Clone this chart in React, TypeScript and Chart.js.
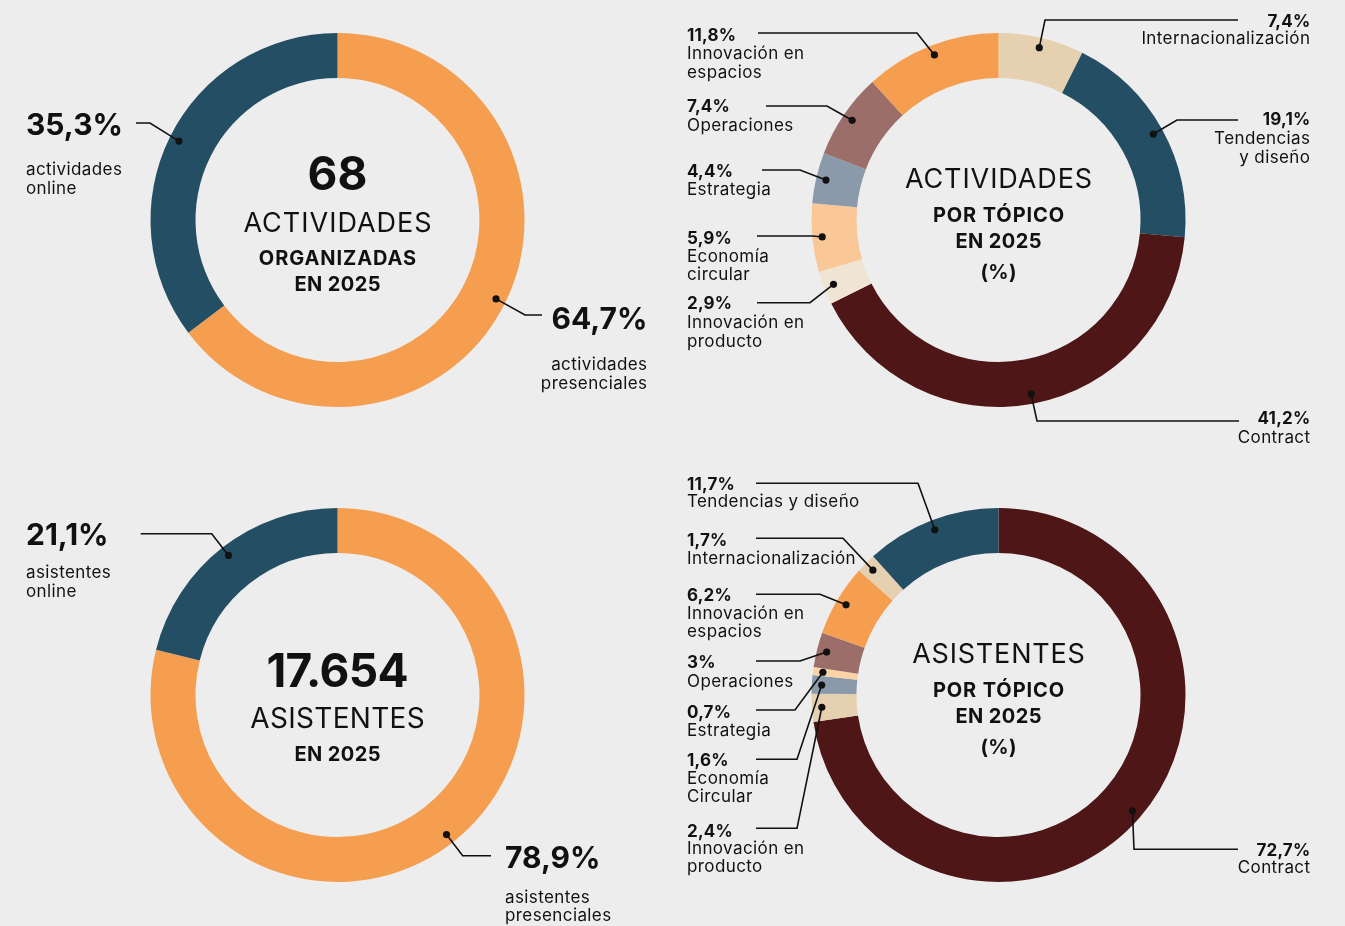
import React, { useEffect, useRef } from 'react';
import { Chart, registerables } from 'chart.js';

Chart.register(...registerables);

const W = 1345;
const H = 926;
const FONT = 'Inter, "Noto Sans", "DejaVu Sans", sans-serif';
const INK = '#111111';
const BG = '#ededed';

// ---------- data ----------
const actividadesTotal = '68';
const actividadesModalidad = ['actividades presenciales', 'actividades online'];
const actividadesModalidadValores = [64.7, 35.3];

const actividadesTopicos = [
  'Internacionalización',
  'Tendencias y diseño',
  'Contract',
  'Innovación en producto',
  'Economía circular',
  'Estrategia',
  'Operaciones',
  'Innovación en espacios',
];
const actividadesTopicosValores = [7.4, 19.1, 41.2, 2.9, 5.9, 4.4, 7.4, 11.8];

const asistentesTotal = '17.654';
const asistentesModalidad = ['asistentes presenciales', 'asistentes online'];
const asistentesModalidadValores = [78.9, 21.1];

const asistentesTopicos = [
  'Contract',
  'Innovación en producto',
  'Economía Circular',
  'Estrategia',
  'Operaciones',
  'Innovación en espacios',
  'Internacionalización',
  'Tendencias y diseño',
];
const asistentesTopicosValores = [72.7, 2.4, 1.6, 0.7, 3, 6.2, 1.7, 11.7];

// ---------- colours ----------
const C_BLUE = '#244e63';
const C_ORANGE = '#f59e50';
const C_MAROON = '#4e1616';
const C_TAN = '#e5d0b0';
const C_MAUVE = '#9b6e69';
const C_GREYBLUE = '#8a9aab';
const C_PEACH = '#f9c896';
const C_PEACH2 = '#fbd3a6';
const C_LIGHT = '#f0e4d4';

const fmt = (v: number) => String(v).replace('.', ',') + '%';

type LabelCfg = {
  i: number;
  align: 'left' | 'right';
  x: number;
  pctY: number;
  pctSize: number;
  textSize: number;
  textY: number[];
  split: number[];
  lx: number;
  ly: number;
  ex: number;
};

type CenterCfg = { text: string; weight: number; size: number; dy: number; ls: number };

type DonutCfg = {
  cx: number;
  cy: number;
  R: number;
  cut: number;
  names: string[];
  values: number[];
  colors: string[];
  center: CenterCfg[];
  labels: LabelCfg[];
};

const splitLines = (name: string, split: number[]) => {
  const words = name.split(' ');
  const out: string[] = [];
  let k = 0;
  for (const n of split) {
    out.push(words.slice(k, k + n).join(' '));
    k += n;
  }
  return out;
};

const big = (i: number, align: 'left' | 'right', x: number, pctY: number, textY: number[], lx: number, ly: number, ex: number): LabelCfg => ({
  i, align, x, pctY, pctSize: 30, textSize: 17, textY, split: [1, 1], lx, ly, ex,
});

const small = (i: number, align: 'left' | 'right', x: number, pctY: number, textY: number[], split: number[], lx: number, ly: number, ex: number): LabelCfg => ({
  i, align, x, pctY, pctSize: 17, textSize: 17, textY, split, lx, ly, ex,
});

const donuts: DonutCfg[] = [
  {
    cx: 337.5, cy: 220, R: 187, cut: 142,
    names: actividadesModalidad,
    values: actividadesModalidadValores,
    colors: [C_ORANGE, C_BLUE],
    center: [
      { text: actividadesTotal, weight: 700, size: 46, dy: -30, ls: 0 },
      { text: 'ACTIVIDADES', weight: 400, size: 27, dy: 12, ls: 1.0 },
      { text: 'ORGANIZADAS', weight: 700, size: 20, dy: 45, ls: 0.9 },
      { text: 'EN 2025', weight: 700, size: 20, dy: 71, ls: 0.4 },
    ],
    labels: [
      big(1, 'left', 26, 134.5, [175, 194], 136, 123, 150),
      big(0, 'right', 647, 328.5, [369.5, 388.5], 542, 315, 525),
    ],
  },
  {
    cx: 998.5, cy: 220, R: 187, cut: 142,
    names: actividadesTopicos,
    values: actividadesTopicosValores,
    colors: [C_TAN, C_BLUE, C_MAROON, C_LIGHT, C_PEACH, C_GREYBLUE, C_MAUVE, C_ORANGE],
    center: [
      { text: 'ACTIVIDADES', weight: 400, size: 27, dy: -31.7, ls: 0.9 },
      { text: 'POR TÓPICO', weight: 700, size: 20, dy: 1.7, ls: 0.9 },
      { text: 'EN 2025', weight: 700, size: 20, dy: 27.7, ls: 0.4 },
      { text: '(%)', weight: 700, size: 20, dy: 59, ls: 0.3 },
    ],
    labels: [
      small(0, 'right', 1310, 26.7, [44.3], [1], 1238, 20, 1045),
      small(1, 'right', 1310, 125, [144.3, 162.5], [1, 2], 1238, 120, 1177),
      small(2, 'right', 1310, 424, [442.7], [1], 1239, 421, 1037),
      small(7, 'left', 687, 41, [59, 77.5], [2, 1], 758, 33, 917),
      small(6, 'left', 687, 112.3, [130.7], [1], 766, 106, 827),
      small(5, 'left', 687, 177.3, [194.5], [1], 762, 170, 800),
      small(4, 'left', 687, 244, [261.7, 280], [1, 1], 757, 236, 813),
      small(3, 'left', 687, 309.3, [328.3, 346.7], [2, 1], 757, 302.7, 810),
    ],
  },
  {
    cx: 337.5, cy: 695, R: 187, cut: 142,
    names: asistentesModalidad,
    values: asistentesModalidadValores,
    colors: [C_ORANGE, C_BLUE],
    center: [
      { text: asistentesTotal, weight: 700, size: 46, dy: -8.3, ls: -0.6 },
      { text: 'ASISTENTES', weight: 400, size: 28, dy: 33.3, ls: 0.3 },
      { text: 'EN 2025', weight: 700, size: 20, dy: 65.7, ls: 0.4 },
    ],
    labels: [
      big(1, 'left', 26, 544.5, [577.7, 596.7], 140.7, 533.7, 211.7),
      big(0, 'left', 505, 867.7, [902.7, 920.5], 491, 855.7, 462.7),
    ],
  },
  {
    cx: 998.5, cy: 695, R: 187, cut: 142,
    names: asistentesTopicos,
    values: asistentesTopicosValores,
    colors: [C_MAROON, C_TAN, C_GREYBLUE, C_PEACH2, C_MAUVE, C_ORANGE, C_TAN, C_BLUE],
    center: [
      { text: 'ASISTENTES', weight: 400, size: 27, dy: -31.7, ls: 0.8 },
      { text: 'POR TÓPICO', weight: 700, size: 20, dy: 1.7, ls: 0.9 },
      { text: 'EN 2025', weight: 700, size: 20, dy: 27.7, ls: 0.4 },
      { text: '(%)', weight: 700, size: 20, dy: 59, ls: 0.3 },
    ],
    labels: [
      small(7, 'left', 687, 490, [507.3], [3], 756, 483.3, 918),
      small(6, 'left', 687, 546, [564], [1], 756, 538.3, 843),
      small(5, 'left', 687, 601, [619, 637], [2, 1], 756, 594.3, 820),
      small(4, 'left', 687, 668.3, [686.7], [1], 756, 661, 800),
      small(3, 'left', 687, 718.3, [735.7], [1], 756, 710, 795),
      small(2, 'left', 687, 765.7, [784, 802.3], [1, 1], 756, 759.3, 797),
      small(1, 'left', 687, 836.7, [854, 872.3], [2, 1], 756, 828.3, 797),
      small(0, 'right', 1310, 856, [873.3], [1], 1238, 849.3, 1134),
    ],
  },
];

const makePlugin = (cfg: DonutCfg) => ({
  id: 'donutLabels',
  afterDraw(chart: any) {
    const ctx: CanvasRenderingContext2D = chart.ctx;
    const meta = chart.getDatasetMeta(0);
    const first = meta.data[0];
    const cx = first.x;
    const cy = first.y;
    ctx.save();
    ctx.fillStyle = INK;
    ctx.strokeStyle = INK;
    ctx.textBaseline = 'alphabetic';
    ctx.textAlign = 'center';
    for (const c of cfg.center) {
      ctx.font = `${c.weight} ${c.size}px ${FONT}`;
      (ctx as any).letterSpacing = c.ls + 'px';
      ctx.fillText(c.text, cx + c.ls / 2, cy + c.dy);
    }
    for (const l of cfg.labels) {
      const arc = meta.data[l.i];
      const p = arc.getProps(['x', 'y', 'startAngle', 'endAngle', 'innerRadius', 'outerRadius'], true);
      const mid = (p.startAngle + p.endAngle) / 2;
      const r = p.innerRadius + 0.78 * (p.outerRadius - p.innerRadius);
      const dx = p.x + Math.cos(mid) * r;
      const dy = p.y + Math.sin(mid) * r;
      ctx.lineWidth = 1.6;
      ctx.lineJoin = 'miter';
      ctx.beginPath();
      ctx.moveTo(l.lx, l.ly);
      ctx.lineTo(l.ex, l.ly);
      ctx.lineTo(dx, dy);
      ctx.stroke();
      ctx.beginPath();
      ctx.arc(dx, dy, 3.6, 0, Math.PI * 2);
      ctx.fill();

      ctx.textAlign = l.align;
      const off = l.align === 'right' ? 0.4 : 0;
      ctx.font = `700 ${l.pctSize}px ${FONT}`;
      (ctx as any).letterSpacing = (l.pctSize > 20 ? 0 : 0.2) + 'px';
      ctx.fillText(fmt(cfg.values[l.i]), l.x + off, l.pctY);
      ctx.font = `400 ${l.textSize}px ${FONT}`;
      (ctx as any).letterSpacing = '0.4px';
      const lines = splitLines(cfg.names[l.i], l.split);
      lines.forEach((t, k) => ctx.fillText(t, l.x + off, l.textY[k]));
    }
    ctx.restore();
  },
});

function Donut({ cfg }: { cfg: DonutCfg }) {
  const ref = useRef<HTMLCanvasElement | null>(null);
  useEffect(() => {
    if (!ref.current) return;
    const chart = new Chart(ref.current, {
      type: 'doughnut',
      data: {
        labels: cfg.names,
        datasets: [
          {
            data: cfg.values,
            backgroundColor: cfg.colors,
            borderWidth: 0,
            hoverOffset: 0,
          },
        ],
      },
      options: {
        responsive: false,
        animation: false,
        events: [],
        cutout: cfg.cut,
        rotation: 0,
        layout: {
          padding: {
            left: cfg.cx - cfg.R,
            top: cfg.cy - cfg.R,
            right: W - cfg.cx - cfg.R,
            bottom: H - cfg.cy - cfg.R,
          },
        },
        plugins: {
          legend: { display: false },
          tooltip: { enabled: false },
          title: { display: false },
        },
      } as any,
      plugins: [makePlugin(cfg)],
    });
    return () => chart.destroy();
  }, [cfg]);
  return (
    <canvas
      ref={ref}
      width={W}
      height={H}
      style={{ position: 'absolute', left: 0, top: 0, width: W, height: H }}
    />
  );
}

export default function App() {
  useEffect(() => {
    document.body.style.margin = '0';
    document.body.style.background = BG;
  }, []);
  return (
    <div style={{ position: 'absolute', left: 0, top: 0, width: W, height: H, background: BG, overflow: 'hidden' }}>
      {donuts.map((d, k) => (
        <Donut key={k} cfg={d} />
      ))}
    </div>
  );
}
